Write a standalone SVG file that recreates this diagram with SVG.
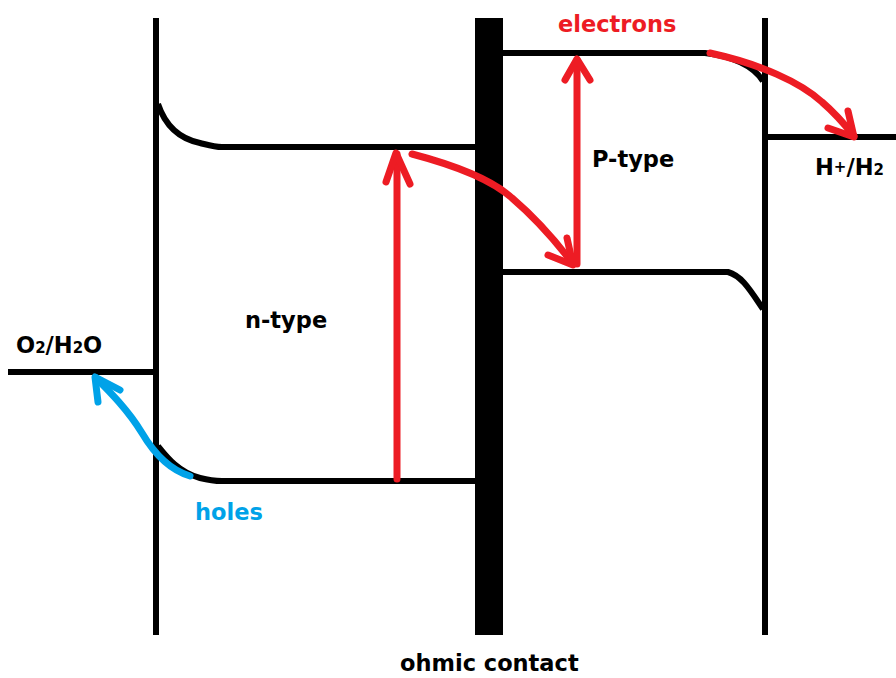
<svg xmlns="http://www.w3.org/2000/svg" width="896" height="678" viewBox="0 0 896 678">
  <style>
    .band { fill: none; stroke: #000; stroke-width: 6; stroke-linejoin: round; }
    .red { fill: none; stroke: #ED1C24; stroke-width: 7; stroke-linecap: round; stroke-linejoin: round; }
    .blue { fill: none; stroke: #00A2E8; stroke-width: 7; stroke-linecap: round; stroke-linejoin: round; }
    .lbl { font-family: "DejaVu Sans", Verdana, sans-serif; font-weight: bold; font-size: 22.5px; fill: #000; }
    .lbl-red { fill: #ED1C24; }
    .lbl-blue { fill: #00A2E8; }
  </style>

  <rect width="896" height="678" fill="#fff"/>

  <!-- electrolyte on the left: O2/H2O level -->
  <g id="oxygen-level">
    <path class="band" d="M8 372 H156"/>
    <text class="lbl" x="16" y="353">O<tspan font-size="15">2</tspan>/H<tspan font-size="15">2</tspan>O</text>
  </g>

  <!-- n-type semiconductor -->
  <g id="n-type">
    <path class="band" d="M156 18 V635"/>
    <path class="band" d="M158 104 C164 122 176 138 200 143 C208 145 214 147 222 147 H475"/>
    <path class="band" d="M158 446 C166 456 178 472 200 478 C208 480 214 481 222 481 H475"/>
    <text class="lbl" x="245" y="328">n-type</text>
  </g>

  <!-- ohmic contact -->
  <g id="ohmic-contact">
    <rect x="475" y="18" width="28" height="617" fill="#000"/>
    <text class="lbl" x="400" y="671">ohmic contact</text>
  </g>

  <!-- p-type semiconductor -->
  <g id="p-type">
    <path class="band" d="M765 18 V635"/>
    <path class="band" d="M503 53 H705 C730 56 752 64 763 81"/>
    <path class="band" d="M503 272 H728 C742 276 750 290 763 309"/>
    <text class="lbl" x="592" y="167">P-type</text>
  </g>

  <!-- electrolyte on the right: H+/H2 level -->
  <g id="hydrogen-level">
    <path class="band" d="M765 137 H896"/>
    <text class="lbl" x="815" y="175">H<tspan font-size="15" dy="-3">+</tspan><tspan dy="3">/H</tspan><tspan font-size="15">2</tspan></text>
  </g>

  <!-- carrier labels -->
  <g id="labels">
    <text class="lbl lbl-red" x="558" y="32">electrons</text>
    <text class="lbl lbl-blue" x="195" y="520">holes</text>
  </g>

  <!-- carrier transfer arrows -->
  <g id="connectors">
    <!-- excitation in n-type -->
    <path class="red" d="M397 479 V154"/>
    <path class="red" d="M386 182 L396 153 L410 184"/>
    <!-- n-type CB to p-type VB across the contact -->
    <path class="red" d="M412 154 C450 164 490 178 512 198 C540 222 558 244 573 264"/>
    <path class="red" d="M548 255 L573 265 L567 238"/>
    <!-- excitation in p-type -->
    <path class="red" d="M577 264 V60"/>
    <path class="red" d="M565 80 L577 59 L590 80"/>
    <!-- p-type CB to H+/H2 -->
    <path class="red" d="M710 53 C760 64 800 82 822 102 C836 114 846 126 854 136"/>
    <path class="red" d="M828 128 L854 137 L848 111"/>
    <!-- holes from n-type VB to O2/H2O -->
    <path class="blue" d="M190 476 C170 470 155 455 142 433 C128 410 110 392 96 378"/>
    <path class="blue" d="M120 390 L95 377 L98 402"/>
  </g>
</svg>
